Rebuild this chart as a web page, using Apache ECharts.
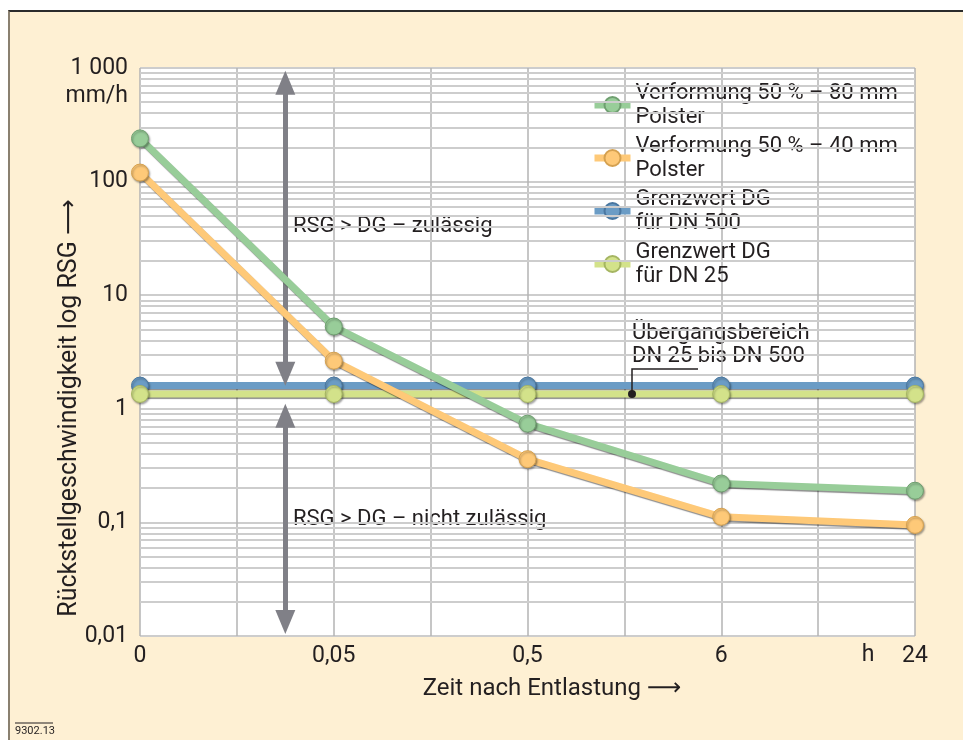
<!DOCTYPE html>
<html>
<head>
<meta charset="utf-8">
<script src="https://cdn.jsdelivr.net/npm/echarts@6/dist/echarts.min.js"></script>
<style>
  html, body { margin: 0; padding: 0; background: #fff; }
  #frame {
    position: absolute; left: 8px; top: 10px; width: 955px; height: 730px;
    background: #fef0d3; border-left: 2px solid #8a8070; border-top: 2px solid #2b2b2b;
    box-sizing: border-box;
  }
  #chart { position: absolute; left: 0; top: 0; width: 963px; height: 740px; }
</style>
</head>
<body>
<div id="frame"></div>
<div id="chart"></div>
<script>
// x positions on an evenly spaced scale, labels as printed
const xPositions = [0, 2, 4, 6, 8]
const xTickLabels = ['0', '0,05', '0,5', '6', '24']
const yTickLabels = ['0,01', '0,1', '1', '10', '100', '1 000']

// Rückstellgeschwindigkeit in mm/h
const polster80 = [240, 5.3, 0.74, 0.22, 0.19]
const polster40 = [120, 2.65, 0.36, 0.112, 0.095]
const grenzDN500 = [1.6, 1.6, 1.6, 1.6, 1.6]
const grenzDN25 = [1.35, 1.35, 1.35, 1.35, 1.35]

const names = [
  'Verformung 50 % – 80 mm\nPolster',
  'Verformung 50 % – 40 mm\nPolster',
  'Grenzwert DG\nfür DN 500',
  'Grenzwert DG\nfür DN 25'
]

const font = 'Roboto, "DejaVu Sans", sans-serif'
const ink = '#231f20'

// log grid lines 2..9 inside each decade
const minorGrid = []
for (let e = -2; e <= 2; e++) {
  for (let k = 2; k <= 9; k++) minorGrid.push(+(k * Math.pow(10, e)).toPrecision(3))
}

const toPairs = vals => xPositions.map((x, i) => [x, vals[i]])

const lineSeries = (name, vals, color, edge, z) => ({
  name,
  type: 'line',
  data: toPairs(vals),
  z,
  symbol: 'circle',
  symbolSize: 17,
  lineStyle: {
    width: 7,
    color,
    shadowColor: 'rgba(0,0,0,0.45)',
    shadowBlur: 1,
    shadowOffsetX: 1,
    shadowOffsetY: 1.5
  },
  itemStyle: {
    color,
    borderColor: edge,
    borderWidth: 1,
    shadowColor: 'rgba(0,0,0,0.35)',
    shadowBlur: 2,
    shadowOffsetX: 1,
    shadowOffsetY: 1.5
  },
  emphasis: { disabled: true }
})

const arrowStyle = { color: '#808087', width: 5, type: 'solid' }

const chart = echarts.init(document.getElementById('chart'))

const option = {
  animation: false,
  textStyle: { fontFamily: font },
  grid: {
    left: 140,
    right: 48,
    top: 68,
    bottom: 104,
    show: true,
    backgroundColor: '#ffffff',
    borderWidth: 0
  },
  legend: {
    orient: 'vertical',
    left: 586,
    top: 76,
    itemGap: 5,
    itemWidth: 36,
    itemHeight: 20,
    selectedMode: false,
    data: names,
    lineStyle: { width: 7 },
    textStyle: { fontSize: 22, lineHeight: 24, color: ink, fontFamily: font }
  },
  xAxis: {
    type: 'value',
    min: 0,
    max: 8,
    interval: 1,
    axisLine: { show: false },
    axisTick: { show: false },
    splitLine: { show: true, lineStyle: { color: '#b3b3b3', width: 1.5 } },
    axisLabel: {
      fontSize: 23,
      color: ink,
      margin: 9,
      showMinLabel: true,
      showMaxLabel: true,
      formatter: v => {
        const i = xPositions.indexOf(v)
        return i >= 0 ? xTickLabels[i] : ''
      }
    }
  },
  yAxis: {
    type: 'log',
    logBase: 10,
    min: 0.01,
    max: 1000,
    axisLine: { show: false },
    axisTick: { show: false },
    splitLine: { show: true, lineStyle: { color: '#cdcdcd', width: 2 } },
    axisLabel: {
      fontSize: 23,
      lineHeight: 28,
      color: ink,
      margin: 12,
      formatter: v => {
        const e = Math.round(Math.log10(v))
        const lbl = yTickLabels[e + 2]
        return e === 3 ? ' \n' + lbl + '\nmm/h' : lbl
      }
    }
  },
  series: [
    lineSeries(names[0], polster80, '#98cd99', '#6f9f70', 6),
    lineSeries(names[1], polster40, '#fec978', '#d5a150', 5),
    lineSeries(names[2], grenzDN500, '#6b9cc5', '#4a77a0', 3),
    lineSeries(names[3], grenzDN25, '#d3e28a', '#a5b562', 4),
    {
      name: 'minorGrid',
      type: 'line',
      data: [],
      z: 1,
      markLine: {
        silent: true,
        symbol: ['none', 'none'],
        label: { show: false },
        lineStyle: { color: '#cdcdcd', width: 2, type: 'solid' },
        data: minorGrid.map(v => ({ yAxis: v }))
      }
    },
    {
      name: 'arrows',
      type: 'line',
      data: [],
      z: 2,
      markLine: {
        silent: true,
        symbol: ['triangle', 'triangle'],
        symbolSize: [20, 24],
        label: { show: false },
        lineStyle: arrowStyle,
        data: [
          [{ coord: [1.5, 740] }, { coord: [1.5, 2.03] }],
          [{ coord: [1.5, 0.87] }, { coord: [1.5, 0.0133] }]
        ]
      }
    }
  ],
  graphic: [
    {
      type: 'text', x: 70, y: 408, rotation: Math.PI / 2,
      style: { text: 'Rückstellgeschwindigkeit log RSG ⟶', font: '25px ' + font, fill: ink, align: 'center', verticalAlign: 'middle' }
    },
    {
      type: 'text', x: 552, y: 689,
      style: { text: 'Zeit nach Entlastung ⟶', font: '24px ' + font, fill: ink, align: 'center', verticalAlign: 'middle' }
    },
    {
      type: 'text', x: 868, y: 655,
      style: { text: 'h', font: '23px ' + font, fill: ink, align: 'center', verticalAlign: 'middle' }
    },
    {
      type: 'text', x: 293, y: 226,
      style: { text: 'RSG > DG – zulässig', font: '22px ' + font, fill: ink, align: 'left', verticalAlign: 'middle' }
    },
    {
      type: 'text', x: 293, y: 519,
      style: { text: 'RSG > DG – nicht zulässig', font: '22px ' + font, fill: ink, align: 'left', verticalAlign: 'middle' }
    },
    {
      type: 'text', x: 632, y: 333,
      style: { text: 'Übergangsbereich', font: '22px ' + font, fill: ink, align: 'left', verticalAlign: 'middle' }
    },
    {
      type: 'text', x: 632, y: 356,
      style: { text: 'DN 25 bis DN 500', font: '22px ' + font, fill: ink, align: 'left', verticalAlign: 'middle' }
    },
    {
      type: 'polyline', z: 10,
      shape: { points: [[632, 394], [632, 369], [698, 369]] },
      style: { stroke: '#231f20', lineWidth: 1.5, fill: null }
    },
    {
      type: 'circle', z: 10,
      shape: { cx: 632, cy: 394, r: 4 },
      style: { fill: '#231f20' }
    },
    {
      type: 'text', x: 15, y: 731,
      style: { text: '9302.13', font: '11px ' + font, fill: ink, align: 'left', verticalAlign: 'middle' }
    },
    {
      type: 'line',
      shape: { x1: 15, y1: 723, x2: 53, y2: 723 },
      style: { stroke: ink, lineWidth: 1 }
    }
  ]
}

chart.setOption(option)
</script>
</body>
</html>
